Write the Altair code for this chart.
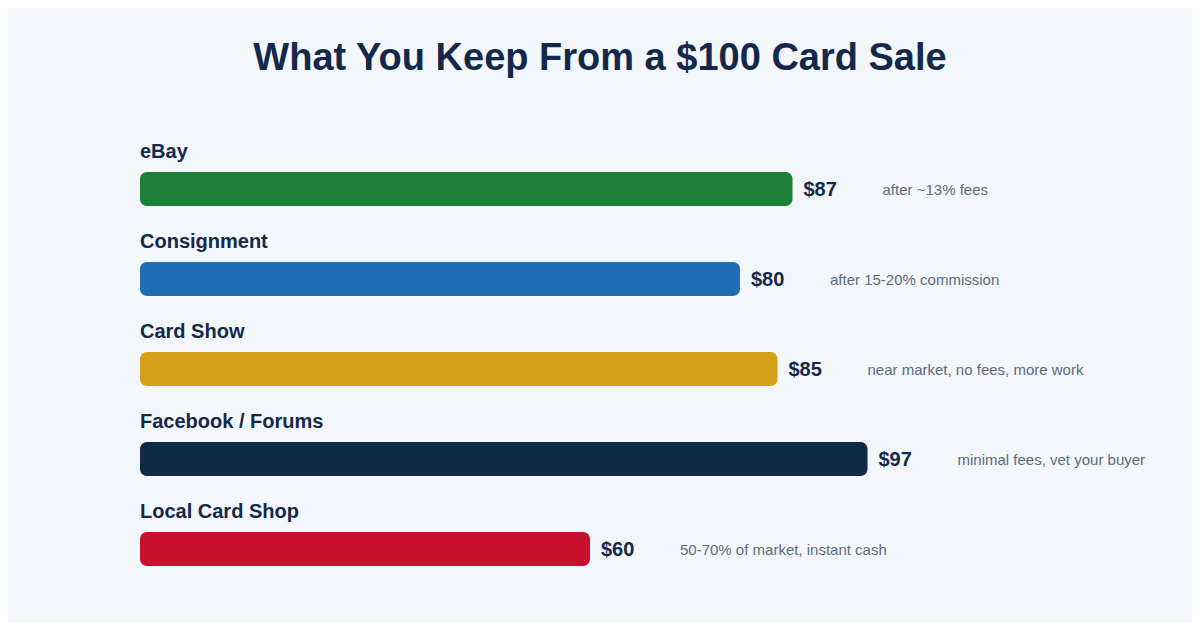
import altair as alt
import pandas as pd

platforms = ["eBay", "Consignment", "Card Show", "Facebook / Forums", "Local Card Shop"]
kept = [87, 80, 85, 97, 60]
notes = [
    "after ~13% fees",
    "after 15-20% commission",
    "near market, no fees, more work",
    "minimal fees, vet your buyer",
    "50-70% of market, instant cash",
]
colors = ["#1b7f3a", "#1f6db5", "#d4a017", "#0f2a45", "#c8102e"]

df = pd.DataFrame({"platform": platforms, "kept": kept, "note": notes})

FONT = "Liberation Sans"
NAVY = "#13294b"

xscale = alt.Scale(domain=[0, 100], range=[132, 882], nice=False)
x = alt.X("kept:Q", scale=xscale, axis=None)
y = alt.Y("platform:N", sort=platforms, scale=alt.Scale(type="point", range=[81, 441], padding=0), axis=None)

base = alt.Chart(df)

bars = base.mark_bar(height=34, cornerRadius=7).encode(
    x=alt.X("zero:Q", scale=xscale, axis=None),
    x2="kept:Q",
    y=y,
    color=alt.Color("platform:N", scale=alt.Scale(domain=platforms, range=colors), legend=None),
).transform_calculate(zero="0")

cat_labels = base.mark_text(
    align="left", baseline="alphabetic", dy=-31, fontSize=20, fontWeight="bold", color=NAVY, font=FONT
).encode(
    x=alt.X("zero:Q", scale=xscale, axis=None),
    y=y,
    text="platform:N",
).transform_calculate(zero="0")

val_labels = base.mark_text(
    align="left", baseline="middle", dx=11, dy=1, fontSize=20, fontWeight="bold", color=NAVY, font=FONT
).encode(
    x=x,
    y=y,
    text="label:N",
).transform_calculate(label="'$' + datum.kept")

note_labels = base.mark_text(
    align="left", baseline="middle", dx=90, dy=1, fontSize=15, color="#5f6b7a", font=FONT
).encode(
    x=x,
    y=y,
    text="note:N",
)

chart = alt.layer(bars, cat_labels, val_labels, note_labels).properties(
    width=1184,
    height=514,
    padding={"left": 0, "top": 100, "right": 0, "bottom": 0},
    autosize=alt.AutoSizeParams(type="none"),
    background="#f3f6fa",
    title=alt.TitleParams(
        "What You Keep From a $100 Card Sale",
        fontSize=38,
        font=FONT,
        fontWeight="bold",
        color=NAVY,
        anchor="middle",
        offset=30,
    ),
).configure_view(stroke=None)

chart.save("out.html", embed_options={"renderer": "svg", "actions": False})
